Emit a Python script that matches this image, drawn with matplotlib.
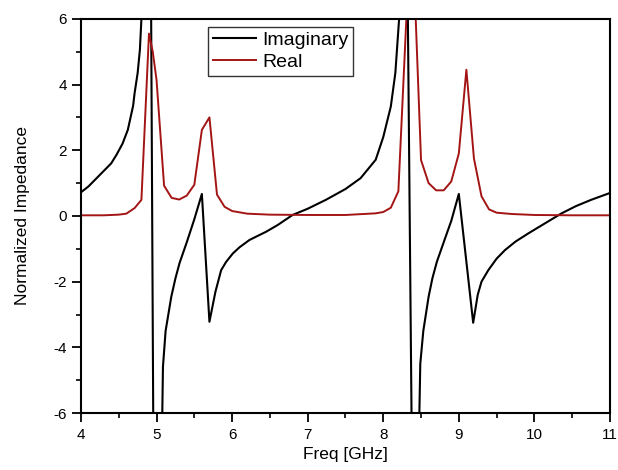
import matplotlib
matplotlib.use('Agg')
import matplotlib.pyplot as plt
from matplotlib.ticker import MultipleLocator

plt.rcParams['font.family'] = ['Liberation Sans', 'DejaVu Sans']
plt.rcParams['axes.unicode_minus'] = False

# values (GHz, normalized impedance); points beyond +/-6 get clipped
freq_imag = [4.0, 4.1, 4.25, 4.4, 4.47, 4.55, 4.62, 4.69, 4.71, 4.75, 4.78, 4.8, 4.85,
             4.92, 4.965, 5.0, 5.07, 5.085, 5.12, 5.195, 5.25, 5.305, 5.4, 5.5, 5.6,
             5.7, 5.78, 5.855, 5.92, 6.01, 6.1, 6.23, 6.45, 6.6, 6.8, 7.0, 7.24, 7.5,
             7.7, 7.9, 8.0, 8.1, 8.16, 8.21, 8.25, 8.31, 8.39, 8.47, 8.49, 8.53, 8.6,
             8.65, 8.71, 8.8, 8.9, 9.0, 9.19, 9.25, 9.3, 9.39, 9.5, 9.61, 9.75, 9.92,
             10.1, 10.36, 10.55, 10.75, 11.0]
imag = [0.72, 0.9, 1.25, 1.6, 1.86, 2.2, 2.62, 3.35, 3.74, 4.35, 5.06, 6.0, 9.0,
        10.0, -10.0, -9.0, -7.0, -4.59, -3.5, -2.46, -1.9, -1.43, -0.8, -0.1, 0.67,
        -3.22, -2.3, -1.65, -1.4, -1.14, -0.95, -0.73, -0.48, -0.28, 0.03, 0.22, 0.49, 0.82,
        1.15, 1.71, 2.4, 3.33, 4.35, 6.0, 9.0, 10.0, -10.0, -7.0, -4.5, -3.5, -2.46,
        -1.9, -1.39, -0.8, -0.15, 0.67, -3.25, -2.4, -2.0, -1.65, -1.3, -1.04, -0.78, -0.53,
        -0.28, 0.08, 0.3, 0.49, 0.7]

freq_real = [4.0, 4.3, 4.5, 4.6, 4.71, 4.8, 4.9, 4.95, 5.0, 5.1, 5.2, 5.3, 5.4, 5.5,
             5.6, 5.7, 5.8, 5.9, 6.0, 6.2, 6.5, 7.0, 7.5, 7.9, 8.0, 8.1, 8.2, 8.33,
             8.41, 8.5, 8.6, 8.7, 8.8, 8.9, 9.0, 9.1, 9.2, 9.3, 9.4, 9.5, 9.7, 10.0,
             10.5, 11.0]
real = [0.02, 0.02, 0.04, 0.07, 0.24, 0.49, 5.55, 5.0, 4.14, 0.92, 0.55, 0.5, 0.62, 0.95,
        2.62, 3.0, 0.65, 0.28, 0.15, 0.07, 0.04, 0.03, 0.03, 0.08, 0.12, 0.25, 0.75, 7.2,
        7.2, 1.7, 1.0, 0.78, 0.78, 1.05, 1.9, 4.45, 1.75, 0.6, 0.2, 0.1, 0.06, 0.03,
        0.02, 0.02]

fig = plt.figure(figsize=(6.18, 4.70), dpi=100)
ax = fig.add_axes([0.131, 0.121, 0.856, 0.839])

ax.plot(freq_imag, imag, color='black', lw=1.5, label='Imaginary')
ax.plot(freq_real, real, color='#a31515', lw=1.4, label='Real')

ax.set_xlim(4, 11)
ax.set_ylim(-6, 6)
ax.xaxis.set_major_locator(MultipleLocator(1))
ax.xaxis.set_minor_locator(MultipleLocator(0.5))
ax.yaxis.set_major_locator(MultipleLocator(2))
ax.yaxis.set_minor_locator(MultipleLocator(1))
ax.tick_params(which='major', direction='out', length=6.5, width=1.3, labelsize=11)
ax.tick_params(which='minor', direction='out', length=3.5, width=1.2)
ax.tick_params(axis='x', which='major', pad=4)
for s in ax.spines.values():
    s.set_linewidth(1.5)

ax.set_xlabel('Freq [GHz]', fontsize=12.5, labelpad=4)
ax.set_ylabel('Normalized Impedance', fontsize=12.5, labelpad=17)

leg = ax.legend(loc='upper left', bbox_to_anchor=(0.241, 0.98), borderaxespad=0,
                fontsize=14, handlelength=2.2, handletextpad=0.3, labelspacing=0.2,
                borderpad=0.25, fancybox=False, framealpha=1, edgecolor='#333333')
leg.get_frame().set_linewidth(1.0)

fig.savefig('out.png', dpi=100)
